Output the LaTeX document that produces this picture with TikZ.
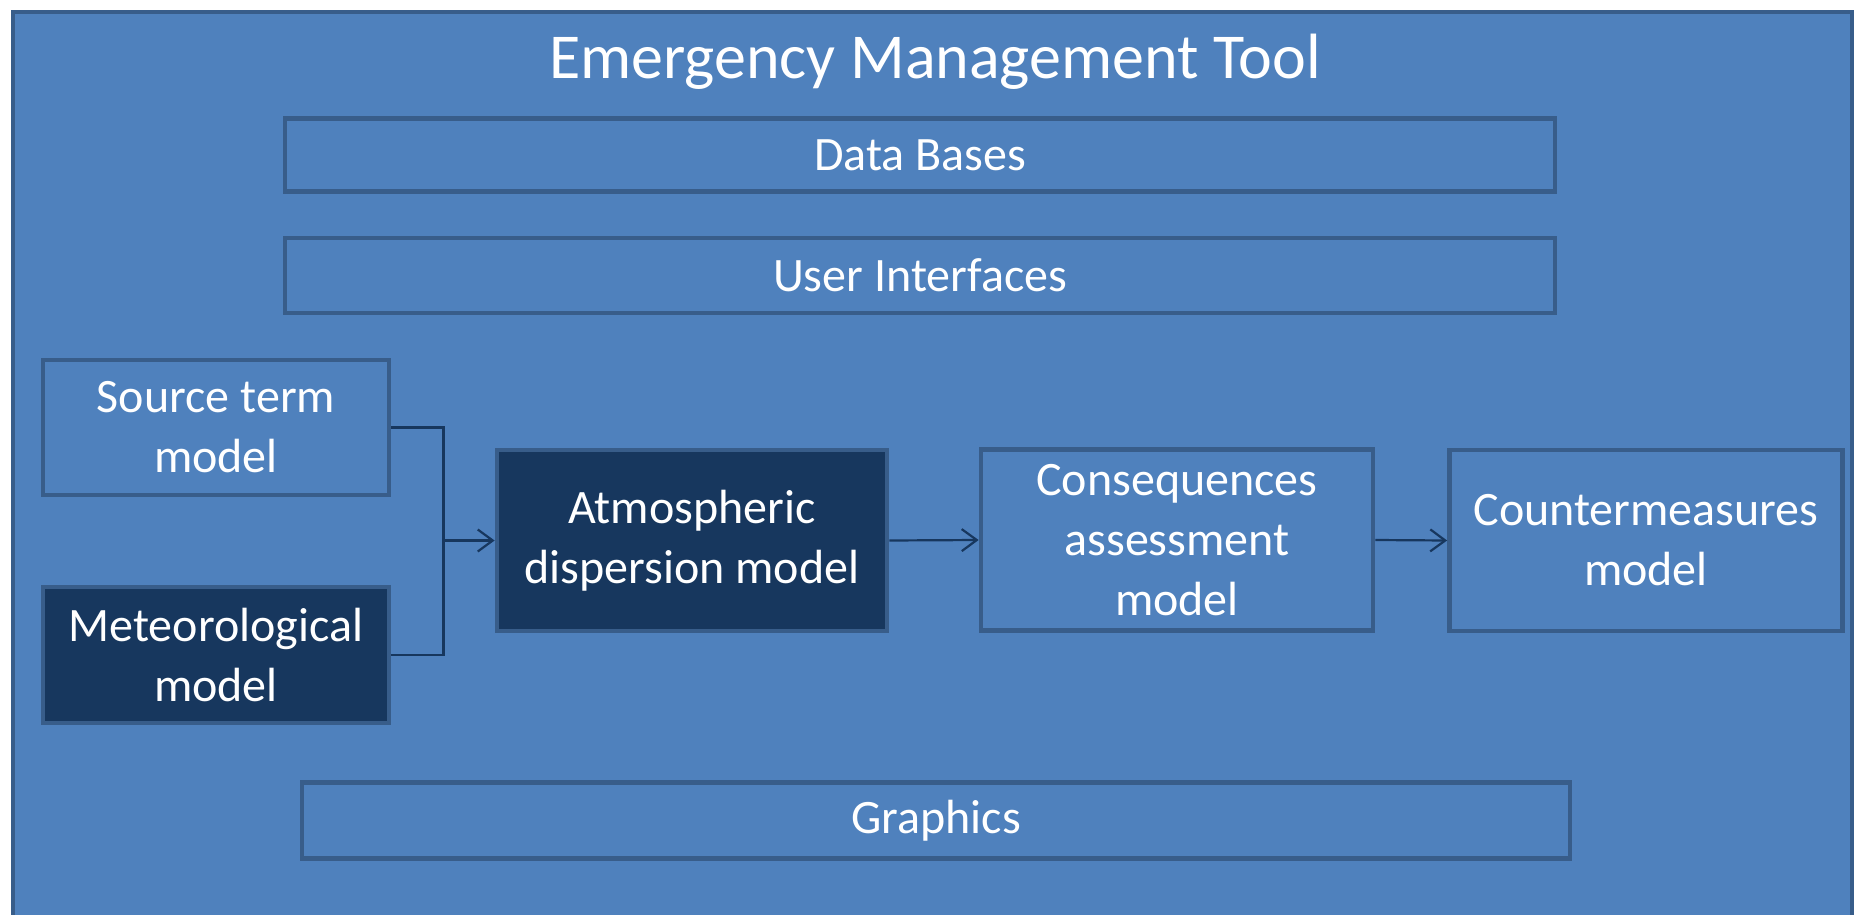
\documentclass[tikz,border=0pt]{standalone}
\usepackage{fontspec}
\setmainfont{Carlito}
\usetikzlibrary{arrows.meta}
\definecolor{panelblue}{HTML}{4F81BD}
\definecolor{edgeblue}{HTML}{385D8A}
\definecolor{navy}{HTML}{17375E}
\tikzset{
  modbox/.style={draw=edgeblue, line width=2.4pt, fill=panelblue, text=white, align=center,
    inner sep=0pt, font=\fontsize{24}{30}\selectfont},
  darkbox/.style={modbox, fill=navy},
  flow/.style={draw=navy, line width=1.1pt},
  tip/.style={-{Straight Barb[length=7.5pt,width=11pt]}}
}
\begin{document}
\begin{tikzpicture}[x=0.5pt, y=-0.5pt]

\useasboundingbox (0,0) rectangle (1857,915);
\clip (0,0) rectangle (1857,915);
\fill [white] (0,0) rectangle (1857,915);
\draw [edgeblue, fill=panelblue, line width=2.4pt] (13,12) rectangle (1852,960);

\node [anchor=base, text=white, font=\fontsize{32}{38}\selectfont] (title) at (935,79) {Emergency Management Tool};

\node [modbox, minimum width=635pt, minimum height=36.5pt] (db) at (920,155) {Data Bases};
\node [modbox, minimum width=635pt, minimum height=37.5pt] (ui) at (920,275.5) {User Interfaces};
\node [modbox, minimum width=634pt, minimum height=38pt] (gfx) at (936,820.5) {Graphics};

\node [modbox, minimum width=173pt, minimum height=67.5pt] (src) at (216,427.5) {Source term\\model};
\node [darkbox, minimum width=173pt, minimum height=68pt] (met) at (216,655) {Meteorological\\model};
\node [darkbox, minimum width=195pt, minimum height=90.5pt] (atm) at (692,540.5) {Atmospheric\\dispersion model};
\node [modbox, minimum width=196pt, minimum height=90.5pt] (csq) at (1177,540) {Consequences\\assessment\\model};
\node [modbox, minimum width=196.5pt, minimum height=90.5pt] (cm) at (1646,540.5) {Countermeasures\\model};

\coordinate (join) at (443.5,540.5);
\draw [flow] (src.east) -| (join);
\draw [flow] (met.east) -| (join);
\draw [flow, tip] (join) -- (atm.west);
\draw [flow, tip] (atm.east) -- (csq.west);
\draw [flow, tip] (csq.east) -- (cm.west);
\end{tikzpicture}
\end{document}
